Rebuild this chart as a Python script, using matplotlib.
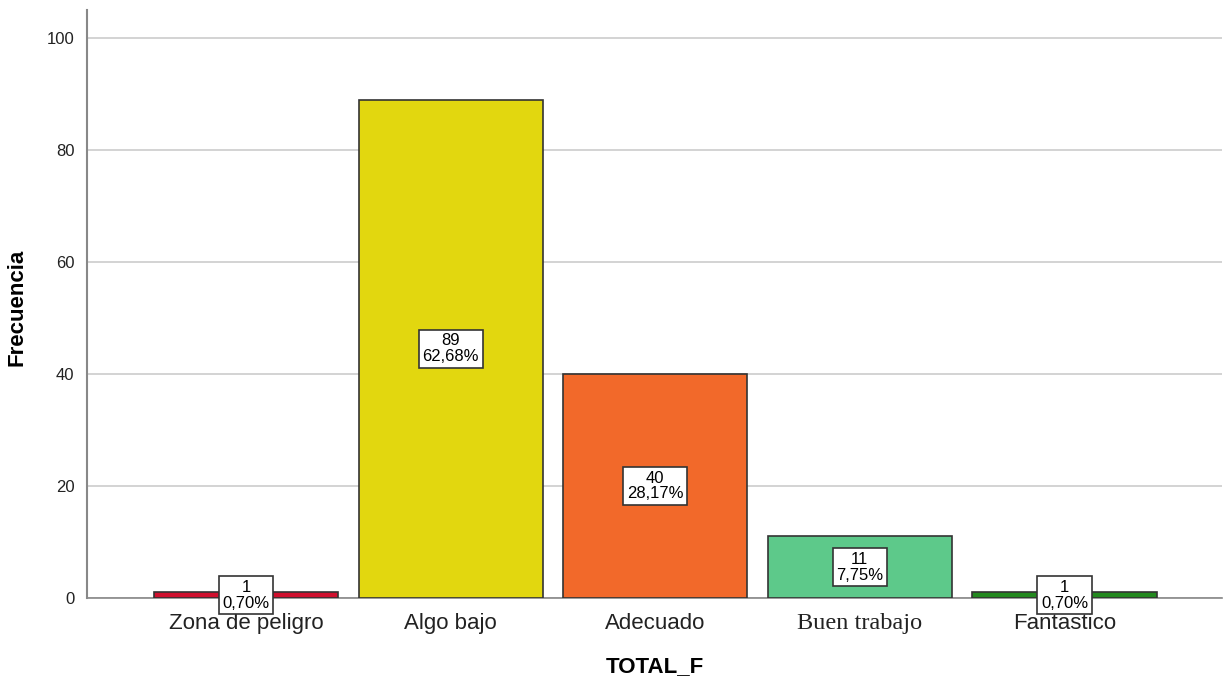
import matplotlib
matplotlib.use("Agg")
import matplotlib.pyplot as plt

# frequency table for TOTAL_F
categories = ["Zona de peligro", "Algo bajo", "Adecuado", "Buen trabajo", "Fantastico"]
counts = [1, 89, 40, 11, 1]
percents = ["0,70%", "62,68%", "28,17%", "7,75%", "0,70%"]
colors = ["#D0102E", "#E2D70F", "#F2692A", "#5DC98A", "#23891F"]

plt.rcParams["font.family"] = ["Liberation Sans", "DejaVu Sans"]

fig = plt.figure(figsize=(12.25, 6.82), dpi=100)
ax = fig.add_axes([87 / 1225, 1 - 598 / 682, (1222 - 87) / 1225, (598 - 10) / 682])

x = list(range(len(categories)))
ax.bar(x, counts, width=0.9, color=colors, edgecolor="#333333", linewidth=1.2, zorder=3)

for xi, n, p in zip(x, counts, percents):
    ax.text(xi, n / 2, "%d\n%s" % (n, p), ha="center", va="center", fontsize=12,
            linespacing=1.05, zorder=5,
            bbox=dict(boxstyle="square,pad=0.22", fc="white", ec="#333333", lw=1.2))

ax.set_xlim(-0.777, 4.77)
ax.set_ylim(0, 105)
ax.set_yticks([0, 20, 40, 60, 80, 100])
ax.yaxis.grid(True, color="#CCCCCC", linewidth=1.2, zorder=0)
ax.set_axisbelow(True)

ax.set_xticks(x)
ax.set_xticklabels(categories, fontsize=16, color="#222222")
# the fourth label uses a serif face
lbl = ax.get_xticklabels()[3]
lbl.set_fontfamily("Liberation Serif")
lbl.set_fontsize(17.5)
lbl.set_color("#222222")
ax.tick_params(axis="x", length=0, pad=11)
ax.tick_params(axis="y", length=0, pad=9, labelsize=12, labelcolor="#222222")

for s in ["top", "right"]:
    ax.spines[s].set_visible(False)
ax.spines["left"].set_color("#888888")
ax.spines["left"].set_linewidth(1.5)
ax.spines["bottom"].set_color("#888888")
ax.spines["bottom"].set_linewidth(1.2)

ax.set_ylabel("Frecuencia", fontsize=16, fontweight="bold")
ax.yaxis.set_label_coords(-0.052, 0.495)
ax.set_xlabel("TOTAL_F", fontsize=16, fontweight="bold")
ax.xaxis.set_label_coords(0.5, -0.099)

fig.savefig("out.png", dpi=100)
